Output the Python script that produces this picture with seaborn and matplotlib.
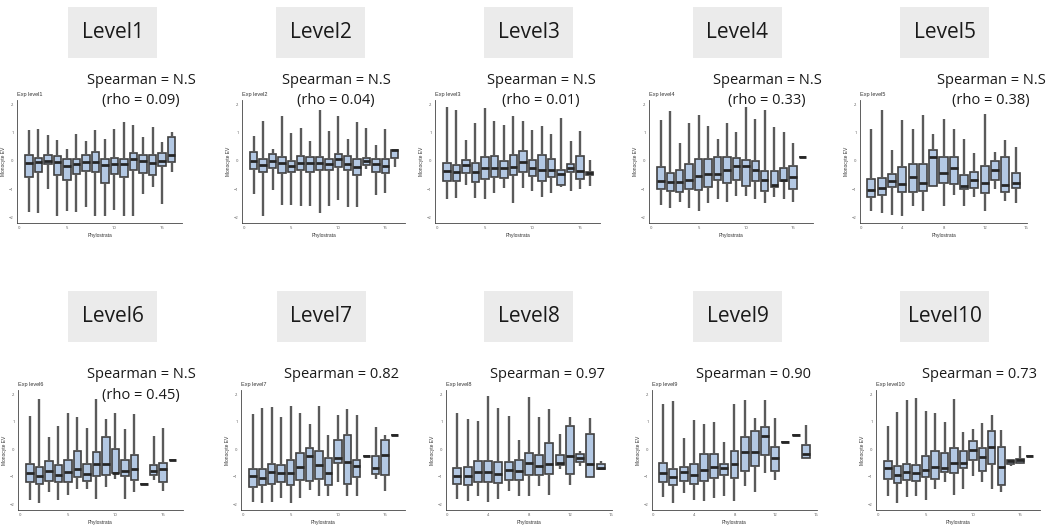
import numpy as np
import pandas as pd
import matplotlib.pyplot as plt
from matplotlib.patches import Rectangle
import seaborn as sns

sns.set_style("white")
plt.rcParams['font.family'] = ['Open Sans', 'DejaVu Sans']

# ---------------------------------------------------------------
# data: one row per phylostratum -> (whisker low, q1, median, q3, whisker high)
# ---------------------------------------------------------------
phylostrata = [1, 2, 3, 4, 5, 6, 7, 8, 9, 10, 11, 12, 13, 14, 15, 16]

level1_boxes = [
    [-1.81, -0.58, -0.09, 0.19, 1.08], [-1.85, -0.40, -0.06, 0.09, 1.14],
    [-0.99, -0.13, 0.01, 0.19, 0.92], [-1.96, -0.49, -0.05, 0.17, 0.73],
    [-1.76, -0.69, -0.19, 0.06, 0.43], [-1.80, -0.45, -0.12, 0.05, 0.93],
    [-1.63, -0.37, -0.04, 0.22, 0.69], [-1.96, -0.40, -0.05, 0.30, 1.10],
    [-1.94, -0.77, -0.14, 0.07, 0.76], [-1.75, -0.46, -0.11, 0.11, 1.14],
    [-1.96, -0.56, -0.11, 0.05, 1.36], [-1.94, -0.32, 0.06, 0.27, 1.27],
    [-1.18, -0.43, -0.01, 0.19, 0.84], [-0.92, -0.50, -0.08, 0.19, 1.18],
    [-1.53, -0.19, 0.00, 0.26, 0.65], [-0.39, -0.04, 0.20, 0.83, 1.01],
]
level2_boxes = [
    [-1.19, -0.30, -0.02, 0.30, 0.89], [-1.96, -0.38, -0.14, 0.06, 1.40],
    [-1.02, -0.26, 0.00, 0.24, 0.43], [-1.58, -0.42, -0.09, 0.14, 1.60],
    [-1.58, -0.39, -0.20, 0.01, 0.97], [-1.59, -0.32, -0.08, 0.18, 1.17],
    [-1.60, -0.38, -0.07, 0.12, 0.71], [-1.84, -0.34, -0.07, 0.13, 1.81],
    [-1.59, -0.34, -0.11, 0.07, 1.06], [-1.39, -0.23, 0.06, 0.23, 1.58],
    [-1.63, -0.34, -0.13, 0.17, 0.77], [-1.63, -0.51, -0.23, 0.06, 1.38],
    [-0.28, -0.14, 0.01, 0.09, 1.15], [-1.21, -0.38, -0.13, 0.08, 0.57],
    [-1.15, -0.42, -0.18, 0.08, 1.13], [-0.23, 0.09, 0.37, 0.38, 0.39],
]
level3_boxes = [
    [-1.35, -0.72, -0.36, -0.09, 1.89], [-1.30, -0.70, -0.39, -0.14, 1.79],
    [-0.85, -0.43, -0.15, 0.02, 0.75], [-1.30, -0.75, -0.39, -0.09, 1.32],
    [-1.34, -0.66, -0.27, 0.12, 1.87], [-1.14, -0.58, -0.24, 0.17, 1.40],
    [-0.97, -0.60, -0.26, 0.00, 1.26], [-1.48, -0.52, -0.21, 0.19, 1.57],
    [-0.97, -0.38, -0.06, 0.33, 1.39], [-1.07, -0.55, -0.26, 0.04, 1.09],
    [-1.28, -0.72, -0.31, 0.20, 1.23], [-1.14, -0.56, -0.31, 0.07, 0.96],
    [-0.94, -0.84, -0.46, -0.34, 1.53], [-1.06, -0.38, -0.26, -0.12, 0.69],
    [-0.98, -0.64, -0.37, 0.17, 1.06], [-0.88, -0.50, -0.44, -0.38, 0.04],
]
level4_boxes = [
    [-1.58, -0.98, -0.70, -0.23, 1.45], [-1.66, -1.06, -0.75, -0.43, 1.77],
    [-1.47, -1.10, -0.74, -0.34, 0.63], [-1.68, -0.98, -0.68, -0.13, 1.32],
    [-1.79, -1.04, -0.55, 0.05, 1.61], [-1.49, -0.93, -0.47, 0.05, 1.23],
    [-1.34, -0.69, -0.45, 0.14, 0.76], [-1.46, -0.77, -0.33, 0.12, 1.34],
    [-1.25, -0.68, -0.18, 0.09, 1.02], [-1.26, -0.89, -0.20, 0.02, 1.92],
    [-1.35, -0.72, -0.31, 0.00, 1.47], [-1.49, -1.06, -0.68, -0.36, 1.80],
    [-1.28, -0.94, -0.84, -0.36, 1.19], [-1.35, -0.71, -0.68, -0.25, 1.02],
    [-1.47, -1.01, -0.59, -0.20, 0.64], [0.13, 0.13, 0.13, 0.13, 0.13],
]
level5_boxes = [
    [-1.77, -1.27, -1.03, -0.65, 1.14], [-1.86, -1.22, -0.95, -0.62, 1.81],
    [-1.93, -0.93, -0.72, -0.45, 0.39], [-1.95, -1.12, -0.81, -0.23, 1.45],
    [-1.59, -1.12, -0.56, -0.11, 1.13], [-1.77, -1.08, -0.77, -0.11, 1.61],
    [-0.88, -0.88, 0.14, 0.39, 0.94], [-1.60, -0.79, -0.43, 0.15, 1.48],
    [-1.22, -0.82, -0.27, 0.15, 1.14], [-1.59, -1.01, -0.88, -0.52, 0.78],
    [-1.27, -0.95, -0.68, -0.38, 0.27], [-1.77, -1.14, -0.79, -0.17, 1.67],
    [-1.00, -0.68, -0.32, -0.02, 0.30], [-1.41, -1.12, -0.85, 0.14, 0.72],
    [-1.51, -0.97, -0.79, -0.43, 0.49],
]
level6_boxes = [
    [-1.84, -1.19, -0.87, -0.54, 1.22], [-1.94, -1.25, -0.96, -0.65, 1.83],
    [-1.56, -1.15, -0.78, -0.41, 0.44], [-1.84, -1.18, -0.94, -0.57, 0.85],
    [-1.66, -1.19, -0.84, -0.39, 1.32], [-1.43, -0.99, -0.70, -0.06, 1.18],
    [-1.45, -1.16, -0.91, -0.53, 0.77], [-1.81, -0.97, -0.52, -0.09, 1.82],
    [-1.35, -0.94, -0.52, 0.43, 1.09], [-1.06, -0.87, -0.85, 0.00, 1.32],
    [-1.79, -0.97, -0.80, -0.37, 0.73], [-1.56, -1.11, -0.70, -0.19, 1.29],
    [-1.25, -1.25, -1.25, -1.25, -1.25], [-1.10, -0.94, -0.79, -0.57, 0.47],
    [-1.51, -1.20, -0.72, -0.50, 0.76], [-0.38, -0.38, -0.38, -0.38, -0.38],
]
level7_boxes = [
    [-1.92, -1.38, -0.98, -0.71, 1.28], [-1.95, -1.28, -1.03, -0.71, 1.51],
    [-1.91, -1.26, -0.83, -0.53, 1.53], [-1.77, -1.20, -0.86, -0.57, 1.18],
    [-1.95, -1.31, -0.86, -0.39, 1.58], [-1.77, -1.10, -0.65, -0.15, 1.32],
    [-1.46, -1.16, -0.24, 0.06, 0.91], [-1.69, -1.06, -0.58, -0.07, 1.57],
    [-1.71, -1.30, -0.86, -0.33, 0.53], [-1.19, -0.50, -0.33, 0.32, 1.24],
    [-1.71, -1.26, -0.47, 0.53, 1.45], [-1.71, -0.99, -0.59, -0.38, 1.23],
    [-0.25, -0.25, -0.25, -0.25, -0.25], [-1.06, -0.91, -0.66, -0.26, 0.81],
    [-1.50, -0.92, -0.20, 0.35, 0.53], [0.51, 0.51, 0.51, 0.51, 0.51],
]
level8_boxes = [
    [-1.79, -1.24, -0.98, -0.66, 1.33], [-1.89, -1.30, -0.97, -0.65, 1.11],
    [-1.71, -1.20, -0.84, -0.41, 1.04], [-1.91, -1.18, -0.84, -0.43, 1.95],
    [-1.79, -1.22, -0.89, -0.45, 1.51], [-1.51, -1.12, -0.76, -0.45, 1.19],
    [-1.71, -1.12, -0.80, -0.39, 0.35], [-1.69, -0.94, -0.51, -0.15, 1.89],
    [-1.32, -0.94, -0.59, -0.19, 1.16], [-1.64, -0.91, -0.54, 0.22, 1.45],
    [-0.71, -0.58, -0.48, -0.21, 0.54], [-1.30, -0.89, -0.25, 0.83, 1.16],
    [-0.59, -0.46, -0.30, -0.18, -0.06], [-1.04, -1.00, -0.53, 0.57, 1.12],
    [-0.76, -0.73, -0.68, -0.55, -0.44],
]
level9_boxes = [
    [-1.74, -1.20, -0.86, -0.51, 1.63], [-1.95, -1.30, -1.00, -0.71, 1.74],
    [-1.59, -1.15, -0.83, -0.65, 0.41], [-1.83, -1.25, -0.94, -0.55, 1.06],
    [-1.88, -1.16, -0.74, -0.18, 0.91], [-1.76, -1.03, -0.65, -0.18, 1.00],
    [-1.69, -0.94, -0.67, -0.55, 0.25], [-1.89, -1.03, -0.55, -0.07, 1.65],
    [-1.32, -0.77, -0.11, 0.46, 1.79], [-1.56, -0.59, -0.11, 0.66, 1.15],
    [-0.86, -0.19, 0.48, 0.81, 1.79], [-1.12, -0.80, -0.31, 0.08, 1.15],
    [0.28, 0.28, 0.28, 0.28, 0.28], [0.52, 0.52, 0.52, 0.52, 0.52],
    [-0.30, -0.30, -0.17, 0.15, 0.89],
]
level10_boxes = [
    [-1.69, -1.07, -0.68, -0.42, 0.83], [-1.96, -1.21, -0.93, -0.60, 1.37],
    [-1.73, -1.11, -0.81, -0.55, 1.79], [-1.71, -1.15, -0.85, -0.57, 1.85],
    [-1.85, -1.01, -0.74, -0.23, 1.40], [-1.43, -1.07, -0.65, -0.06, 1.33],
    [-1.20, -0.83, -0.68, -0.12, 1.00], [-1.67, -0.87, -0.49, 0.04, 1.83],
    [-1.45, -0.68, -0.50, -0.06, 0.63], [-0.98, -0.38, -0.04, 0.29, 0.73],
    [-1.20, -0.77, -0.27, 0.04, 0.94], [-1.45, -0.52, 0.07, 0.65, 1.25],
    [-1.56, -1.29, -0.65, 0.08, 0.71], [-0.61, -0.54, -0.44, -0.39, -0.37],
    [-0.54, -0.48, -0.39, -0.36, 0.12], [-0.26, -0.26, -0.26, -0.26, -0.26],
]

levels = ['Level1', 'Level2', 'Level3', 'Level4', 'Level5',
          'Level6', 'Level7', 'Level8', 'Level9', 'Level10']
spearman = ['N.S', 'N.S', 'N.S', 'N.S', 'N.S', 'N.S', '0.82', '0.97', '0.90', '0.73']
rho = ['0.09', '0.04', '0.01', '0.33', '0.38', '0.45', None, None, None, None]
all_boxes = [level1_boxes, level2_boxes, level3_boxes, level4_boxes, level5_boxes,
             level6_boxes, level7_boxes, level8_boxes, level9_boxes, level10_boxes]
xticks_5 = [0, 5, 10, 15]
xticks_4 = [0, 4, 8, 12, 16]

# ---------------------------------------------------------------
# layout (pixels of a 1051x525 canvas)
# ---------------------------------------------------------------
W, H = 1051, 525
ax_x = [(17, 182), (242, 405), (435, 600), (649, 813), (860, 1027),
        (18, 183), (241, 405), (446, 612), (652, 817), (876, 1040)]
ax_y = [(100, 223), (390, 510)]
label_x = [68, 276, 484, 693, 900, 68, 277, 484, 693, 900]
label_y = [7, 291]
text_cx = [141, 336, 541, 767, 991, 141, 342, 548, 753, 980]
text_y = [81, 375]

box_fill = '#b3c8e3'
edge_col = '#404040'

fig = plt.figure(figsize=(W / 100, H / 100), dpi=100)

for i, boxes in enumerate(all_boxes):
    row = i // 5
    x0, x1 = ax_x[i]
    top, bot = ax_y[row]
    ax = fig.add_axes([x0 / W, 1 - bot / H, (x1 - x0) / W, (bot - top) / H])

    # 5 values per stratum -> quartiles/whiskers come out exactly as read
    rows = []
    for pos, stats in zip(phylostrata, boxes):
        for v in stats:
            rows.append({'Phylostrata': pos, 'EV': v})
    df = pd.DataFrame(rows)

    sns.boxplot(data=df, x='Phylostrata', y='EV', native_scale=True, ax=ax,
                whis=(0, 100), width=0.78, color=box_fill, saturation=1,
                linecolor=edge_col, linewidth=1.2, showcaps=False, showfliers=False,
                medianprops=dict(color='#262626', linewidth=2.0),
                whiskerprops=dict(color='#5a5a5a', linewidth=1.7))

    wide = i in (4, 7, 8)
    ax.set_xticks(xticks_4 if wide else xticks_5)
    ax.set_xlim((-0.1, 16.1) if wide else (-0.25, 17.1))
    ax.set_yticks([-2, -1, 0, 1, 2])
    ax.set_ylim(-2.2, 2.15)
    ax.tick_params(labelsize=3, colors='#555555', length=1.5, width=0.4, pad=1)
    for s in ['top', 'right']:
        ax.spines[s].set_visible(False)
    for s in ['left', 'bottom']:
        ax.spines[s].set_color('#444444')
        ax.spines[s].set_linewidth(0.6)
    ax.set_xlabel('Phylostrata', fontsize=3.5, color='#333333', labelpad=1.5,
                  family=['Liberation Sans', 'DejaVu Sans'])
    ax.set_ylabel('Monocyte EV', fontsize=3.5, color='#333333', labelpad=2,
                  family=['Liberation Sans', 'DejaVu Sans'])
    ax.set_title('Exp level%d' % (i + 1), loc='left', fontsize=4, color='#333333',
                 pad=3, family=['Liberation Sans', 'DejaVu Sans'])

    # grey level header
    ly = label_y[row]
    fig.patches.append(Rectangle((label_x[i] / W, 1 - (ly + 51) / H), 89 / W, 51 / H,
                                 transform=fig.transFigure, facecolor='#ebebeb',
                                 edgecolor='none', zorder=0))
    fig.text((label_x[i] + 44.5) / W, 1 - (ly + 26) / H, levels[i], fontsize=15,
             ha='center', va='center', color='#1a1a1a')

    # spearman annotation
    ty = text_y[row]
    fig.text(text_cx[i] / W, 1 - ty / H, 'Spearman = ' + spearman[i], fontsize=10.5,
             ha='center', va='center', color='#1a1a1a')
    if rho[i] is not None:
        fig.text(text_cx[i] / W, 1 - (ty + 20) / H, '(rho = %s)' % rho[i], fontsize=10.5,
                 ha='center', va='center', color='#1a1a1a')

plt.savefig('out.png', dpi=100)
